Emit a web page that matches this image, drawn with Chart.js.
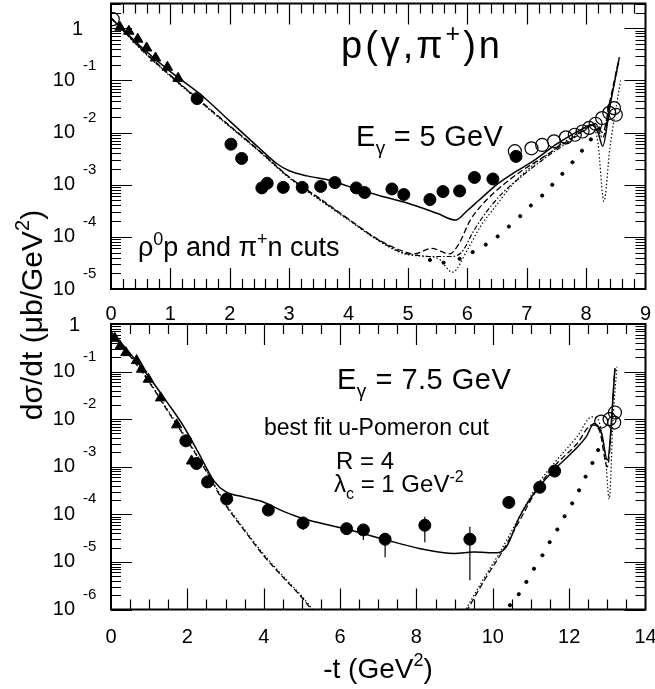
<!DOCTYPE html>
<html>
<head>
<meta charset="utf-8">
<script src="https://cdn.jsdelivr.net/npm/chart.js@4.4.0/dist/chart.umd.min.js"></script>
<style>
html, body { margin: 0; padding: 0; background: #fff; }
#wrap { position: relative; width: 655px; height: 689px; }
#wrap canvas { position: absolute; left: 0; top: 0; }
</style>
</head>
<body>
<div id="wrap">
  <canvas id="topChart" width="655" height="689"></canvas>
  <canvas id="botChart" width="655" height="689"></canvas>
</div>
<script>
// ---- E_gamma = 5 GeV (upper panel) ----
var tTriTop = [0.15, 0.3, 0.45, 0.6, 0.75, 0.95, 1.13];
var vTriTop = [1.05, 0.88, 0.62, 0.42, 0.27, 0.18, 0.11];

var tOpenTop = [0.03, 6.8, 7.08, 7.26, 7.46, 7.66, 7.81, 7.94, 8.05, 8.16, 8.27, 8.39, 8.47, 8.5];
var vOpenTop = [1.5, 4.4e-3, 5.0e-3, 5.8e-3, 6.8e-3, 8.1e-3, 9.1e-3, 1.05e-2, 1.23e-2, 1.48e-2, 1.9e-2, 2.4e-2, 2.95e-2, 2.2e-2];

var tDotTop = [1.45, 2.02, 2.2, 2.54, 2.63, 2.9, 3.22, 3.53, 3.77, 4.13, 4.27, 4.73, 4.93, 5.37, 5.59, 5.87, 6.12, 6.43, 6.82];
var vDotTop = [4.5e-2, 6.0e-3, 3.2e-3, 8.7e-4, 1.07e-3, 8.9e-4, 8.9e-4, 9.3e-4, 1.1e-3, 8.7e-4, 7.1e-4, 8.3e-4, 6.5e-4, 5.2e-4, 7.4e-4, 7.6e-4, 1.38e-3, 1.29e-3, 3.5e-3];

var tSolidTop = [0, 0.5, 1.0, 1.5, 2.0, 2.5, 2.8, 3.0, 3.3, 3.7, 4.0, 4.5, 5.0, 5.5, 5.8, 6.0, 6.2, 6.5, 6.8, 7.1, 7.5, 7.9, 8.1, 8.2, 8.28, 8.4, 8.56];
var vSolidTop = [1.58, 0.45, 0.148, 0.055, 0.0166, 5.0e-3, 2.5e-3, 1.86e-3, 1.48e-3, 1.2e-3, 9.3e-4, 6.3e-4, 4.4e-4, 2.8e-4, 2.1e-4, 3.2e-4, 5.1e-4, 1.02e-3, 1.74e-3, 2.8e-3, 6.0e-3, 1.12e-2, 1.41e-2, 1.0e-2, 5.5e-3, 3.2e-2, 0.28];

var tDashTop = [0, 0.5, 1.0, 1.5, 2.0, 2.5, 3.0, 3.5, 4.0, 4.5, 4.9, 5.1, 5.4, 5.7, 5.85, 6.05, 6.22, 6.5, 6.9, 7.3, 7.7, 8.0, 8.15, 8.28, 8.4, 8.55];
var vDashTop = [1.58, 0.42, 0.126, 0.041, 0.0135, 4.5e-3, 1.41e-3, 5.6e-4, 2.2e-4, 8.9e-5, 5.4e-5, 4.7e-5, 6.0e-5, 4.7e-5, 7.1e-5, 2.1e-4, 3.8e-4, 7.9e-4, 1.8e-3, 3.5e-3, 7.1e-3, 1.2e-2, 1.5e-2, 1.0e-2, 4.0e-2, 0.25];

var tDashDotTop = [0, 0.5, 1.0, 1.5, 2.0, 2.5, 3.0, 3.5, 4.0, 4.5, 4.9, 5.1, 5.4, 5.7, 5.9, 6.1, 6.3, 6.6, 6.9, 7.3, 7.7, 8.0, 8.15, 8.28, 8.4, 8.55];
var vDashDotTop = [1.58, 0.41, 0.123, 0.04, 0.0132, 4.4e-3, 1.38e-3, 5.4e-4, 2.15e-4, 8.7e-5, 5.0e-5, 4.5e-5, 4.2e-5, 4.2e-5, 5.0e-5, 1.26e-4, 2.8e-4, 7.1e-4, 1.41e-3, 3.2e-3, 6.6e-3, 1.15e-2, 1.45e-2, 8.0e-3, 3.5e-2, 0.22];

var tDottedTop = [0, 0.5, 1.0, 1.5, 2.0, 2.5, 3.0, 3.5, 4.0, 4.5, 4.9, 5.2, 5.5, 5.75, 6.0, 6.22, 6.5, 6.78, 7.07, 7.4, 7.8, 8.1, 8.2, 8.3, 8.4, 8.58];
var vDottedTop = [1.58, 0.40, 0.12, 0.039, 0.0129, 4.3e-3, 1.35e-3, 5.2e-4, 2.1e-4, 8.5e-5, 4.9e-5, 4.3e-5, 3.9e-5, 2.1e-5, 5.6e-5, 1.58e-4, 4.2e-4, 1.07e-3, 2.2e-3, 4.2e-3, 8.9e-3, 1.41e-2, 6.3e-3, 4.8e-4, 5.0e-3, 0.1];

var tSparseTop = [5.37, 5.6, 5.87, 6.09, 6.31, 6.51, 6.70, 6.89, 7.07, 7.26, 7.43, 7.60, 7.77, 7.93, 8.08, 8.22];
var vSparseTop = [3.6e-5, 3.2e-5, 3.8e-5, 5.1e-5, 7.1e-5, 1.02e-4, 1.58e-4, 2.5e-4, 4.0e-4, 6.2e-4, 1.0e-3, 1.62e-3, 2.7e-3, 4.5e-3, 7.4e-3, 1.2e-2];

// ---- E_gamma = 7.5 GeV (lower panel) ----
var tTriBot = [0.1, 0.24, 0.39, 0.67, 0.8, 0.98, 1.3, 1.72, 2.11];
var vTriBot = [0.5, 0.34, 0.25, 0.17, 0.112, 0.069, 0.028, 7.6e-3, 1.32e-3];

var tDotBot = [1.96, 2.24, 2.53, 3.03, 4.12, 5.03, 6.17, 6.61, 7.18, 8.22, 9.40, 10.42, 11.23, 11.62];
var vDotBot = [3.5e-3, 1.17e-3, 4.8e-4, 2.1e-4, 1.23e-4, 6.6e-5, 5.0e-5, 4.7e-5, 3.0e-5, 5.9e-5, 3.0e-5, 1.78e-4, 3.7e-4, 8.1e-4];

var tErrBot = [5.03, 6.61, 7.18, 8.22, 9.40];
var loErrBot = [4.7e-5, 2.9e-5, 1.26e-5, 2.6e-5, 4.1e-6];
var hiErrBot = [8.3e-5, 6.0e-5, 4.0e-5, 8.9e-5, 5.5e-5];

var tOpenBot = [12.84, 13.06, 13.18, 13.2];
var vOpenBot = [8.9e-3, 1.0e-2, 8.5e-3, 1.38e-2];

var tSolidBot = [0, 0.5, 1.0, 1.5, 1.9, 2.3, 2.7, 3.0, 3.5, 4.0, 4.5, 5.0, 5.5, 6.2, 7.2, 8.1, 9.0, 9.5, 10.1, 10.36, 10.7, 11.14, 11.6, 12.2, 12.45, 12.65, 12.85, 13.0, 13.2];
var vSolidBot = [0.69, 0.24, 0.076, 0.021, 7.1e-3, 1.9e-3, 5.0e-4, 3.0e-4, 2.3e-4, 1.8e-4, 1.17e-4, 8.3e-5, 6.5e-5, 4.8e-5, 2.9e-5, 1.9e-5, 1.5e-5, 1.62e-5, 1.55e-5, 2.1e-5, 8.9e-5, 3.2e-4, 8.5e-4, 2.5e-3, 4.3e-3, 8.1e-3, 5.0e-3, 1.38e-3, 0.117];

// null = break between the two branches
var tDashBot = [0, 0.5, 1.0, 1.5, 2.0, 2.5, 3.0, 3.5, 4.0, 4.5, 5.0, 5.4, 7, 9.3, 9.83, 10.22, 10.71, 11.2, 11.6, 12.2, 12.6, 12.8, 13.0, 13.2];
var vDashBot = [0.63, 0.21, 0.06, 0.0141, 3.5e-3, 7.9e-4, 1.58e-4, 4.5e-5, 1.35e-5, 4.8e-6, 1.78e-6, 7.0e-7, null, 8.9e-7, 4.8e-6, 1.5e-5, 7.6e-5, 3.8e-4, 1.0e-3, 3.0e-3, 7.6e-3, 5.6e-3, 1.0e-3, 0.117];

var tDottedBot = [0, 0.5, 1.0, 1.5, 2.0, 2.5, 3.0, 3.5, 4.0, 4.5, 5.0, 5.4, 7, 9.25, 9.8, 10.2, 10.7, 11.2, 11.6, 12.2, 12.6, 12.75, 12.95, 13.05, 13.15, 13.25];
var vDottedBot = [0.63, 0.22, 0.063, 0.015, 3.7e-3, 8.3e-4, 1.7e-4, 4.8e-5, 1.45e-5, 5.1e-6, 1.9e-6, 7.5e-7, null, 8.9e-7, 5.0e-6, 1.66e-5, 8.9e-5, 4.5e-4, 1.17e-3, 4.2e-3, 1.12e-2, 1.0e-2, 1.58e-3, 2.1e-4, 1.0e-2, 0.126];

var tSparseBot = [10.45, 10.68, 10.88, 11.08, 11.30, 11.49, 11.69, 11.88, 12.08, 12.26, 12.43, 12.61, 12.76];
var vSparseBot = [1.23e-6, 2.1e-6, 3.8e-6, 7.2e-6, 1.38e-5, 2.6e-5, 4.8e-5, 9.1e-5, 1.7e-4, 3.2e-4, 6.2e-4, 1.2e-3, 2.24e-3];

var FONT = '"Liberation Sans", Arial, sans-serif';

function pts(ts, vs) {
	return ts.map(function(t, i) { return {x: t, y: vs[i]}; });
}

function curve(ts, vs, dash, w) {
	return {
		data: pts(ts, vs), showLine: true, borderColor: '#000', borderWidth: w,
		borderDash: dash, pointRadius: 0, fill: false, spanGaps: false,
		cubicInterpolationMode: 'monotone'
	};
}

function marks(ts, vs, style, r, filled) {
	return {
		data: pts(ts, vs), showLine: false, pointStyle: style, pointRadius: r,
		pointBorderWidth: filled ? 1 : 1.2, pointBorderColor: '#000',
		pointBackgroundColor: filled ? '#000' : 'rgba(0,0,0,0)'
	};
}

// text with super/subscripts: parts = [{t, sup|sub}]
function richWidth(ctx, parts, size) {
	var w = 0;
	parts.forEach(function(p) {
		var s = (p.sup || p.sub) ? Math.round(size * 0.65) : size;
		ctx.font = s + 'px ' + FONT;
		w += ctx.measureText(p.t).width;
	});
	return w;
}
function drawRich(ctx, parts, x, y, size, spacing) {
	var cx = x;
	ctx.textAlign = 'left';
	ctx.textBaseline = 'alphabetic';
	parts.forEach(function(p) {
		var s = (p.sup || p.sub) ? Math.round(size * 0.65) : size;
		ctx.font = s + 'px ' + FONT;
		var dy = p.sup ? -size * 0.42 : (p.sub ? size * 0.28 : 0);
		for (var i = 0; i < p.t.length; i++) {
			var ch = p.t[i];
			ctx.fillText(ch, cx, y + dy);
			cx += ctx.measureText(ch).width + (spacing || 0);
		}
	});
}

function panelPlugin(cfg) {
	return {
		id: 'panel',
		afterDraw: function(chart) {
			var ctx = chart.ctx, a = chart.chartArea;
			var xs = chart.scales.x, ys = chart.scales.y;
			ctx.save();
			ctx.strokeStyle = '#000';
			ctx.fillStyle = '#000';
			ctx.lineWidth = 1.2;
			ctx.beginPath();
			var n = Math.round(xs.max / cfg.xMinor);
			for (var k = 1; k < n; k++) {
				var t = k * cfg.xMinor;
				var px = Math.round(xs.getPixelForValue(t)) + 0.5;
				var q = t / cfg.xMajor;
				var len = Math.abs(q - Math.round(q)) < 1e-6 ? 21 : 10;
				ctx.moveTo(px, a.bottom); ctx.lineTo(px, a.bottom - len);
				ctx.moveTo(px, a.top); ctx.lineTo(px, a.top + len);
			}
			for (var e = cfg.yMinExp; e <= 0; e++) {
				for (var m = 1; m <= 9; m++) {
					var v = m * Math.pow(10, e);
					if (v > ys.max || v < ys.min) continue;
					var py = Math.round(ys.getPixelForValue(v)) + 0.5;
					var l = m === 1 ? 21 : 10;
					ctx.moveTo(a.left, py); ctx.lineTo(a.left + l, py);
					ctx.moveTo(a.right, py); ctx.lineTo(a.right - l, py);
				}
			}
			ctx.stroke();
			ctx.lineWidth = 2;
			ctx.strokeRect(a.left, a.top, a.right - a.left, a.bottom - a.top);

			// "1" label and exponents of the decade labels
			ctx.textBaseline = 'middle';
			ctx.font = '20px ' + FONT;
			ctx.textAlign = 'right';
			ctx.fillText('1', cfg.oneX, ys.getPixelForValue(1) + 1);
			ctx.font = '15px ' + FONT;
			ctx.textAlign = 'left';
			for (var d = cfg.yMinExp; d < 0; d++) {
				var yy = ys.getPixelForValue(Math.pow(10, d));
				ctx.fillText('-' + (-d), 83, yy - 15);
			}
			cfg.texts.forEach(function(tx) {
				drawRich(ctx, tx.parts, tx.x, tx.y, tx.size, tx.spacing);
			});
			if (cfg.titles) cfg.titles(ctx);
			ctx.restore();
		}
	};
}

function noPad(s) {
	s.paddingTop = 0; s.paddingBottom = 0; s.paddingLeft = 0; s.paddingRight = 0;
}

function buildOptions(xMax, xStep, yMin, yMax, padTop, padBottom, xTickPad) {
	var decades = [];
	for (var v = yMin; v <= 1.0001; v *= 10) decades.push({value: v});
	return {
		responsive: false,
		animation: false,
		layout: {autoPadding: false, padding: {left: 0, right: 9.5, top: padTop, bottom: padBottom}},
		plugins: {legend: {display: false}, tooltip: {enabled: false}},
		scales: {
			x: {
				type: 'linear', min: 0, max: xMax,
				grid: {display: false, drawTicks: false},
				border: {display: false},
				ticks: {stepSize: xStep, autoSkip: false, maxRotation: 0, padding: xTickPad,
					color: '#000', font: {family: FONT, size: 20}},
				afterFit: function(s) { s.height = 40; noPad(s); }
			},
			y: {
				type: 'logarithmic', min: yMin, max: yMax,
				grid: {display: false, drawTicks: false},
				border: {display: false},
				ticks: {autoSkip: false, padding: 36, color: '#000', font: {family: FONT, size: 20},
					callback: function(v) { return Math.abs(v - 1) < 1e-9 ? '' : '10'; }},
				afterBuildTicks: function(s) { s.ticks = decades.slice(); },
				afterFit: function(s) { s.width = 111; noPad(s); }
			}
		}
	};
}

var topData = {
	datasets: [
		curve(tSolidTop, vSolidTop, [], 1.5),
		curve(tDashTop, vDashTop, [6, 3], 1.3),
		curve(tDashDotTop, vDashDotTop, [5, 2, 1.5, 2], 1.2),
		curve(tDottedTop, vDottedTop, [1.4, 2.2], 1.2),
		marks(tSparseTop, vSparseTop, 'circle', 1.6, true),
		marks(tTriTop, vTriTop, 'triangle', 6, true),
		marks(tDotTop, vDotTop, 'circle', 6, true),
		marks(tOpenTop, vOpenTop, 'circle', 6.5, false)
	]
};

var topTexts = [
	{parts: [{t: 'p(γ,π'}, {t: '+', sup: true}, {t: ')n'}], x: 341, y: 58, size: 38, spacing: 3},
	{parts: [{t: 'E'}, {t: 'γ', sub: true}, {t: ' = 5 GeV'}], x: 356, y: 146, size: 29, spacing: 0.3},
	{parts: [{t: 'ρ'}, {t: '0', sup: true}, {t: 'p and π'}, {t: '+', sup: true}, {t: 'n cuts'}], x: 138, y: 256, size: 27}
];

new Chart(document.getElementById('topChart'), {
	type: 'scatter',
	data: topData,
	options: buildOptions(9, 1, 1e-5, 3, 3.5, 689 - 289 - 40, 13),
	plugins: [panelPlugin({xMinor: 0.2, xMajor: 1, yMinExp: -5, oneX: 83, texts: topTexts})]
});

var errSets = tErrBot.map(function(t, i) {
	return curve([t, t], [loErrBot[i], hiErrBot[i]], [], 1.2);
});

var botData = {
	datasets: [
		curve(tSolidBot, vSolidBot, [], 1.5),
		curve(tDashBot, vDashBot, [6, 3], 1.3),
		curve(tDottedBot, vDottedBot, [1.4, 2.2], 1.2),
		marks(tSparseBot, vSparseBot, 'circle', 1.6, true),
		marks(tTriBot, vTriBot, 'triangle', 6, true),
		marks(tDotBot, vDotBot, 'circle', 6, true),
		marks(tOpenBot, vOpenBot, 'circle', 6.5, false)
	].concat(errSets)
};

var botTexts = [
	{parts: [{t: 'E'}, {t: 'γ', sub: true}, {t: ' = 7.5 GeV'}], x: 337, y: 389, size: 29, spacing: 0.5},
	{parts: [{t: 'best fit u-Pomeron cut'}], x: 264, y: 435, size: 23},
	{parts: [{t: 'R = 4'}], x: 336, y: 469, size: 24},
	{parts: [{t: 'λ'}, {t: 'c', sub: true}, {t: ' = 1 GeV'}, {t: '-2', sup: true}], x: 334, y: 492, size: 24}
];

function drawTitles(ctx) {
	ctx.fillStyle = '#000';
	var xt = [{t: '-t (GeV'}, {t: '2', sup: true}, {t: ')'}];
	var w = richWidth(ctx, xt, 28);
	drawRich(ctx, xt, 378 - w / 2, 678, 28);
	var yt = [{t: 'dσ/dt (μb/GeV'}, {t: '2', sup: true}, {t: ')'}];
	var wy = richWidth(ctx, yt, 30);
	ctx.save();
	ctx.translate(42, 315);
	ctx.rotate(-Math.PI / 2);
	drawRich(ctx, yt, -wy / 2, 0, 30);
	ctx.restore();
}

new Chart(document.getElementById('botChart'), {
	type: 'scatter',
	data: botData,
	options: buildOptions(14, 2, 1e-6, 1, 324, 689 - 609.5 - 40, 16),
	plugins: [panelPlugin({xMinor: 0.5, xMajor: 2, yMinExp: -6, oneX: 80, texts: botTexts, titles: drawTitles})]
});
</script>
</body>
</html>
